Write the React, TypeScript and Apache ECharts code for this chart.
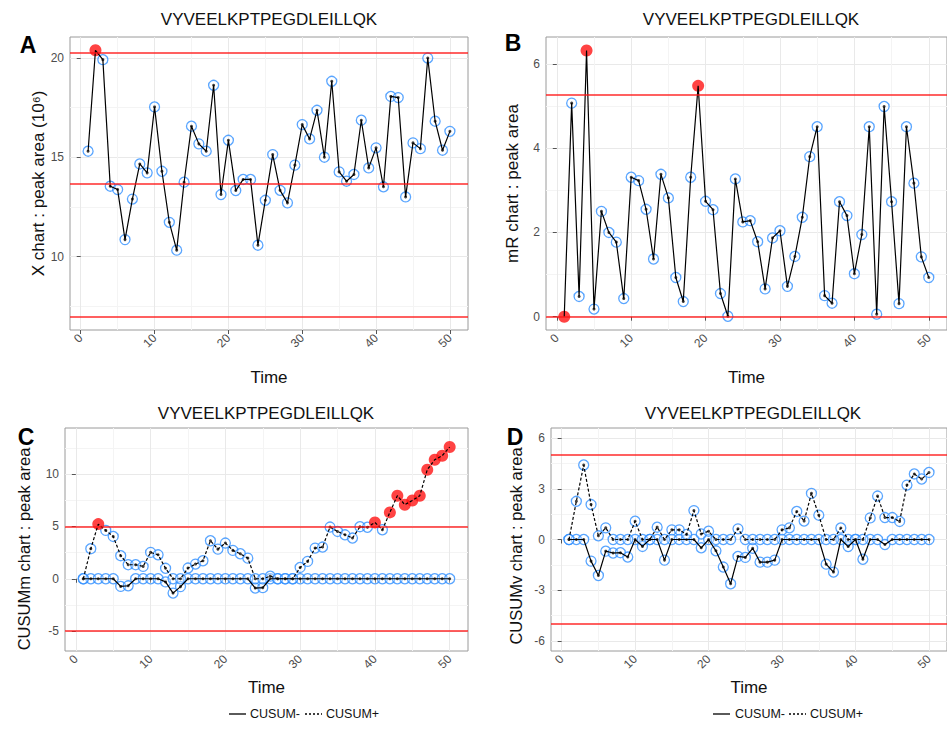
import React, { useEffect, useRef } from 'react';
import * as echarts from 'echarts';

const peptide = 'VYVEELKPTPEGDLEILLQK';
const time = [1, 2, 3, 4, 5, 6, 7, 8, 9, 10, 11, 12, 13, 14, 15, 16, 17, 18, 19, 20, 21, 22, 23, 24, 25, 26, 27, 28, 29, 30, 31, 32, 33, 34, 35, 36, 37, 38, 39, 40, 41, 42, 43, 44, 45, 46, 47, 48, 49, 50];

const xChart = [15.31, 20.39, 19.92, 13.55, 13.38, 10.86, 12.9, 14.67, 14.22, 17.54, 14.3, 11.73, 10.33, 13.75, 16.57, 15.68, 15.31, 18.63, 13.13, 15.86, 13.33, 13.89, 13.89, 10.58, 12.84, 15.14, 13.34, 12.71, 14.61, 16.65, 15.93, 17.37, 15.01, 18.83, 14.27, 13.8, 14.14, 16.87, 14.47, 15.48, 13.52, 18.07, 18.01, 13.01, 15.73, 15.44, 20.0, 16.82, 15.36, 16.31];
const mrChart = [0, 5.07, 0.48, 6.32, 0.18, 2.5, 2.0, 1.77, 0.43, 3.31, 3.23, 2.55, 1.37, 3.38, 2.82, 0.93, 0.36, 3.31, 5.48, 2.74, 2.54, 0.55, 0.01, 3.27, 2.25, 2.28, 1.78, 0.66, 1.87, 2.04, 0.72, 1.43, 2.36, 3.8, 4.51, 0.5, 0.32, 2.73, 2.4, 1.02, 1.95, 4.51, 0.06, 4.99, 2.73, 0.31, 4.51, 3.17, 1.42, 0.93];
const cusumMPlus = [0, 2.87, 5.22, 4.62, 4.04, 2.2, 1.34, 1.34, 1.18, 2.52, 2.29, 1.0, 0, 0, 1.02, 1.4, 1.72, 3.63, 2.83, 3.41, 2.71, 2.39, 1.97, 0, 0, 0.25, 0, 0, 0, 1.08, 1.66, 2.93, 3.03, 4.94, 4.52, 4.2, 3.89, 4.97, 4.92, 5.38, 4.68, 6.34, 7.93, 7.07, 7.48, 7.93, 10.41, 11.37, 11.75, 12.58];
const cusumMMinus = [0, 0, 0, 0, 0, -0.73, -0.67, 0, 0, 0, 0, -0.3, -1.37, -0.75, 0, 0, 0, 0, 0, 0, 0, 0, 0, -0.89, -0.85, 0, 0, 0, 0, 0, 0, 0, 0, 0, 0, 0, 0, 0, 0, 0, 0, 0, 0, 0, 0, 0, 0, 0, 0, 0];
const cusumVPlus = [0, 2.26, 4.41, 2.07, 0.22, 0.69, 0, 0, 0, 1.08, 0, 0, 0.73, 0, 0.57, 0.57, 0.3, 1.71, 0.33, 0.49, 0, 0, 0, 0.63, 0, 0, 0, 0, 0, 0.57, 0.69, 1.66, 1.09, 2.73, 1.44, 0, 0, 0.68, 0, 0, 0, 1.28, 2.57, 1.3, 1.3, 1.07, 3.22, 3.88, 3.58, 3.97];
const cusumVMinus = [0, 0, 0, -1.28, -2.13, -0.69, -0.8, -0.78, -1.04, 0, -0.41, 0, 0, -1.22, 0, 0, 0, 0, -0.49, 0, -0.67, -1.63, -2.62, -1.0, -1.06, -0.52, -1.34, -1.34, -1.22, 0, 0, 0, 0, 0, 0, -1.46, -1.93, 0, -0.42, 0, -1.17, 0, 0, -0.3, 0, 0, 0, 0, 0, 0];

const xLimits = [6.98, 13.65, 20.28];
const mrLimits = [0, 5.27];
const cusumLimits = [-5, 5];

const timeTicks = [0, 10, 20, 30, 40, 50];
const timeMinor = [5, 15, 25, 35, 45];
const xTicks = [10, 15, 20];
const xMinor = [7.5, 12.5, 17.5];
const mrTicks = [0, 2, 4, 6];
const mrMinor = [1, 3, 5];
const cmTicks = [-5, 0, 5, 10];
const cmMinor = [-2.5, 2.5, 7.5, 12.5];
const cvTicks = [-6, -3, 0, 3, 6];
const cvMinor = [-4.5, -1.5, 1.5, 4.5];

const FONT = 'Liberation Sans, Arial, Helvetica, sans-serif';
const BLUE = '#2f8fff';
const RED = '#ff1414';

const pts = (vals: number[]) => time.map((t, i) => [t, vals[i]]);

function pointSeries(vals: number[], isRed: (v: number) => boolean, gi: number) {
  const normal = time.map((t, i) => [t, vals[i]]).filter((p) => !isRed(p[1]));
  const red = time.map((t, i) => [t, vals[i]]).filter((p) => isRed(p[1]));
  return [
    {
      type: 'scatter', xAxisIndex: gi * 2, yAxisIndex: gi * 2, data: normal, symbolSize: 10,
      itemStyle: { color: 'rgba(255,255,255,0.35)', borderColor: BLUE, borderWidth: 1.3 }, silent: true,
    },
    {
      type: 'scatter', xAxisIndex: gi * 2, yAxisIndex: gi * 2, data: normal, symbolSize: 3,
      itemStyle: { color: '#111' }, silent: true,
    },
    {
      type: 'scatter', xAxisIndex: gi * 2, yAxisIndex: gi * 2, data: red, symbolSize: 12,
      itemStyle: { color: RED }, silent: true,
    },
  ];
}

function limitLines(vals: number[]) {
  return {
    silent: true, symbol: ['none', 'none'], label: { show: false },
    lineStyle: { color: RED, width: 1.7, type: 'solid', opacity: 0.9 },
    data: vals.map((v) => ({ yAxis: v })),
  };
}

const panels = [
  { grid: { left: 70, top: 37, width: 398, height: 293 }, yMin: 6.31, yMax: 21.06, yMajor: xTicks, yMinor: xMinor, yName: 'X chart : peak area (10⁶)', yGap: 23, xGap: 39 },
  { grid: { left: 546, top: 37, width: 411, height: 293 }, yMin: -0.316, yMax: 6.64, yMajor: mrTicks, yMinor: mrMinor, yName: 'mR chart : peak area', yGap: 25, xGap: 39 },
  { grid: { left: 65, top: 428, width: 403, height: 223 }, yMin: -6.9, yMax: 14.4, yMajor: cmTicks, yMinor: cmMinor, yName: '', yGap: 31, xGap: 28 },
  { grid: { left: 551, top: 428, width: 406, height: 223 }, yMin: -6.6, yMax: 6.6, yMajor: cvTicks, yMinor: cvMinor, yName: '', yGap: 26, xGap: 28 },
];

// rotated y titles for the lower panels (placed below the panel letters)
const lowerYTitles = [
  { text: 'CUSUMm chart : peak area', x: 24, y: 549 },
  { text: 'CUSUMv chart : peak area', x: 516, y: 546 },
];

const titleCenters = [[269, 19], [751, 19], [266, 413], [753, 413]];
const letters = [['A', 28, 45], ['B', 513, 43], ['C', 26, 437], ['D', 515, 437]];

function buildOption() {
  const grid: any[] = [];
  const xAxis: any[] = [];
  const yAxis: any[] = [];
  panels.forEach((p, gi) => {
    grid.push({ ...p.grid, show: true, borderColor: '#9a9a9a', borderWidth: 1, backgroundColor: '#fff', containLabel: false });
    xAxis.push({
      type: 'value', gridIndex: gi, min: -1.45, max: 52.45, position: 'bottom',
      axisLine: { show: false },
      axisTick: { show: true, length: 4, lineStyle: { color: '#555' }, customValues: timeTicks },
      axisLabel: { customValues: timeTicks, rotate: 45, color: '#4d4d4d', fontSize: 12, fontFamily: FONT, margin: 6 },
      splitLine: { show: true, lineStyle: { color: '#e9e9e9', width: 1 } },
      name: 'Time', nameLocation: 'middle', nameGap: p.xGap,
      nameTextStyle: { color: '#111', fontSize: 17, fontFamily: FONT },
    });
    xAxis.push({
      type: 'value', gridIndex: gi, min: -1.45, max: 52.45, position: 'bottom',
      axisLine: { show: false },
      axisTick: { show: false, customValues: timeMinor },
      axisLabel: { show: false, customValues: timeMinor },
      splitLine: { show: true, lineStyle: { color: '#f4f4f4', width: 1 } },
    });
    yAxis.push({
      type: 'value', gridIndex: gi, min: p.yMin, max: p.yMax, position: 'left',
      axisLine: { show: false },
      axisTick: { show: true, length: 4, lineStyle: { color: '#555' }, customValues: p.yMajor },
      axisLabel: { customValues: p.yMajor, color: '#4d4d4d', fontSize: 12, fontFamily: FONT, margin: 6 },
      splitLine: { show: true, lineStyle: { color: '#e9e9e9', width: 1 } },
      name: p.yName, nameLocation: 'middle', nameGap: p.yGap,
      nameTextStyle: { color: '#111', fontSize: 17, fontFamily: FONT },
    });
    yAxis.push({
      type: 'value', gridIndex: gi, min: p.yMin, max: p.yMax, position: 'left',
      axisLine: { show: false },
      axisTick: { show: false, customValues: p.yMinor },
      axisLabel: { show: false, customValues: p.yMinor },
      splitLine: { show: true, lineStyle: { color: '#f4f4f4', width: 1 } },
    });
  });

  const series: any[] = [];
  series.push({
    type: 'line', name: 'X', xAxisIndex: 0, yAxisIndex: 0, data: pts(xChart), symbol: 'none',
    lineStyle: { color: '#000', width: 1.2 }, markLine: limitLines(xLimits), silent: true,
  });
  series.push(...pointSeries(xChart, (v) => v >= xLimits[2] || v <= xLimits[0], 0));
  series.push({
    type: 'line', name: 'mR', xAxisIndex: 2, yAxisIndex: 2, data: pts(mrChart), symbol: 'none',
    lineStyle: { color: '#000', width: 1.2 }, markLine: limitLines(mrLimits), silent: true,
  });
  series.push(...pointSeries(mrChart, (v) => v >= mrLimits[1] || v <= mrLimits[0], 1));
  series.push({
    type: 'line', name: 'CUSUM-', xAxisIndex: 4, yAxisIndex: 4, data: pts(cusumMMinus), symbol: 'none',
    lineStyle: { color: '#000', width: 1.2 }, markLine: limitLines(cusumLimits), silent: true,
  });
  series.push({
    type: 'line', name: 'CUSUM+', xAxisIndex: 4, yAxisIndex: 4, data: pts(cusumMPlus), symbol: 'none',
    lineStyle: { color: '#000', width: 1.2, type: [3, 2] }, silent: true,
  });
  series.push(...pointSeries(cusumMMinus, (v) => v > cusumLimits[1] || v < cusumLimits[0], 2));
  series.push(...pointSeries(cusumMPlus, (v) => v > cusumLimits[1] || v < cusumLimits[0], 2));
  series.push({
    type: 'line', name: 'CUSUM-', xAxisIndex: 6, yAxisIndex: 6, data: pts(cusumVMinus), symbol: 'none',
    lineStyle: { color: '#000', width: 1.2 }, markLine: limitLines(cusumLimits), silent: true,
  });
  series.push({
    type: 'line', name: 'CUSUM+', xAxisIndex: 6, yAxisIndex: 6, data: pts(cusumVPlus), symbol: 'none',
    lineStyle: { color: '#000', width: 1.2, type: [3, 2] }, silent: true,
  });
  series.push(...pointSeries(cusumVMinus, (v) => v > cusumLimits[1] || v < cusumLimits[0], 3));
  series.push(...pointSeries(cusumVPlus, (v) => v > cusumLimits[1] || v < cusumLimits[0], 3));

  const title: any[] = titleCenters.map(([x, y]) => ({
    text: peptide, left: x, top: y, padding: 0, textAlign: 'center', textVerticalAlign: 'middle',
    textStyle: { fontSize: 17, fontWeight: 'normal', color: '#111', fontFamily: FONT },
  }));
  letters.forEach(([t, x, y]) => {
    title.push({
      text: t, left: x, top: y, padding: 0, textAlign: 'center', textVerticalAlign: 'middle',
      textStyle: { fontSize: 23, fontWeight: 'bold', color: '#000', fontFamily: FONT },
    });
  });

  const legendSpecs = [
    { solid: [229, 246], t1: 250, dashed: [305, 322], t2: 326 },
    { solid: [713, 730], t1: 735, dashed: [789, 806], t2: 810 },
  ];
  const graphic: any[] = [];
  const ly = 714;
  legendSpecs.forEach((s) => {
    graphic.push({ type: 'line', shape: { x1: s.solid[0], y1: ly, x2: s.solid[1], y2: ly }, style: { stroke: '#000', lineWidth: 1.3 }, silent: true });
    graphic.push({ type: 'text', x: s.t1, y: ly, style: { text: 'CUSUM-', fill: '#111', fontSize: 12.5, fontFamily: FONT, align: 'left', verticalAlign: 'middle' }, silent: true });
    graphic.push({ type: 'line', shape: { x1: s.dashed[0], y1: ly, x2: s.dashed[1], y2: ly }, style: { stroke: '#000', lineWidth: 1.3, lineDash: [2, 2] }, silent: true });
    graphic.push({ type: 'text', x: s.t2, y: ly, style: { text: 'CUSUM+', fill: '#111', fontSize: 12.5, fontFamily: FONT, align: 'left', verticalAlign: 'middle' }, silent: true });
  });
  lowerYTitles.forEach((t) => {
    graphic.push({
      type: 'text', x: t.x, y: t.y, rotation: Math.PI / 2, silent: true,
      style: { text: t.text, fill: '#111', fontSize: 16.5, fontFamily: FONT, align: 'center', verticalAlign: 'middle' },
    });
  });

  return { animation: false, backgroundColor: '#fff', title, grid, xAxis, yAxis, series, graphic };
}

export default function App() {
  const ref = useRef<HTMLDivElement>(null);
  useEffect(() => {
    if (!ref.current) return;
    const chart = echarts.init(ref.current, null, { renderer: 'svg' });
    chart.setOption(buildOption() as any);
    return () => chart.dispose();
  }, []);
  return <div ref={ref} style={{ position: 'fixed', left: 0, top: 0, width: 947, height: 735 }} />;
}
